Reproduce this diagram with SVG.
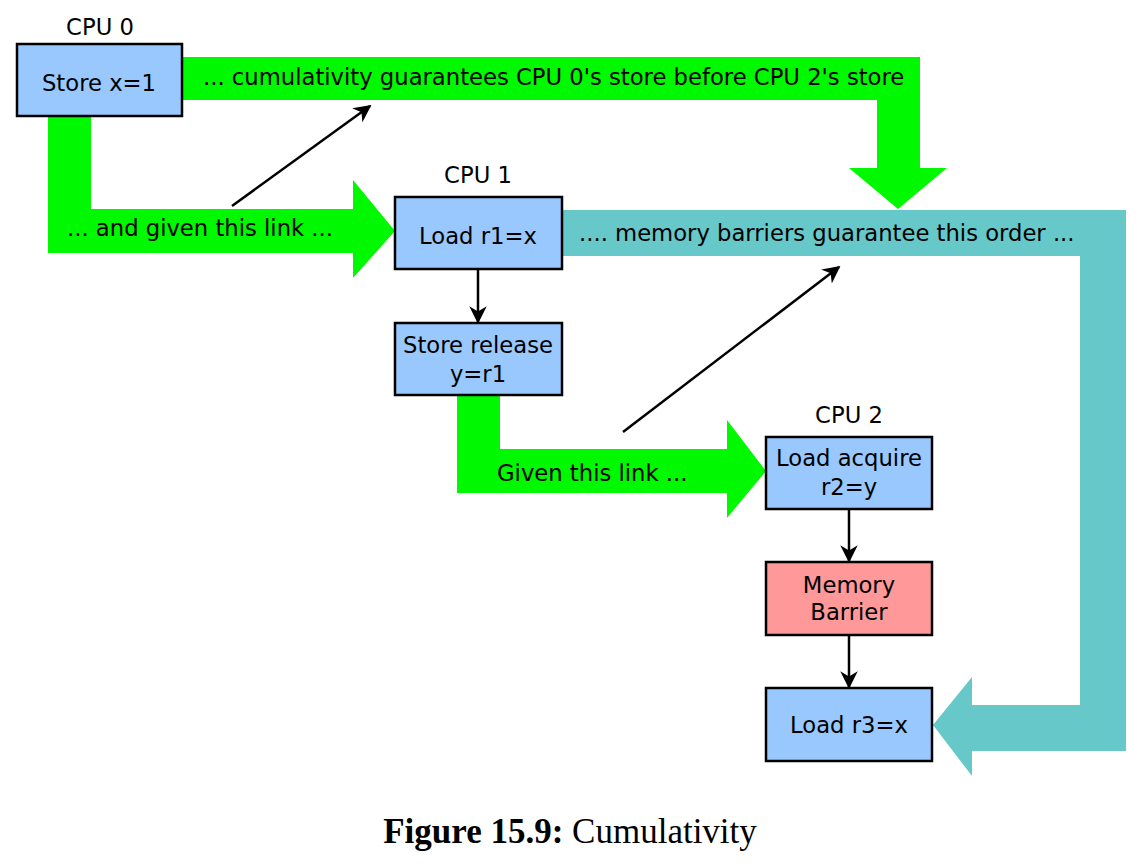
<svg xmlns="http://www.w3.org/2000/svg" width="1146" height="866" viewBox="0 0 1146 866">
<style>
.box{stroke:#000;stroke-width:2.5}
.blue{fill:#99c8ff}
.red{fill:#ff9999}
.t{font-family:"DejaVu Sans",sans-serif;font-size:22.7px;fill:#000}
.c{text-anchor:middle}
.green{fill:#00f800}
.teal{fill:#66c8c8}
.ln{stroke:#000;stroke-width:2.5;fill:none}
</style>
<defs>
<marker id="ah2" viewBox="0 0 10 10" refX="9" refY="5" markerWidth="7" markerHeight="7" orient="auto">
<path d="M0,0 L10,5 L0,10 L3,5 Z" fill="#000"/>
</marker>
</defs>
<g id="connectors">
<path class="green" d="M183,57 H920 V168 H947 L898,209 L849,168 H877 V100 H183 Z"/>
<path class="green" d="M48,117 H91 V209 H353 V180 L395,231 L353,278 V253 H48 Z"/>
<path class="green" d="M457,395 H500 V449 H727 V420 L766,471 L727,518 V493 H457 Z"/>
<path class="teal" d="M562,210 H1126 V751 H972 V776 L933,725 L972,677 V705 H1080 V256 H562 Z"/>
<line class="ln" x1="232" y1="206" x2="370" y2="106" marker-end="url(#ah2)"/>
<line class="ln" x1="623" y1="432" x2="839" y2="267" marker-end="url(#ah2)"/>
<line class="ln" x1="478" y1="269" x2="478" y2="322" marker-end="url(#ah2)"/>
<line class="ln" x1="849" y1="509" x2="849" y2="561" marker-end="url(#ah2)"/>
<line class="ln" x1="849" y1="635" x2="849" y2="687" marker-end="url(#ah2)"/>
<text class="t" x="203" y="85">... cumulativity guarantees CPU 0's store before CPU 2's store</text>
<text class="t" x="67" y="236">... and given this link ...</text>
<text class="t" x="579" y="241">.... memory barriers guarantee this order ...</text>
<text class="t" x="497" y="481">Given this link ...</text>
</g>
<g id="cpu0">
<text class="t c" x="100" y="35">CPU 0</text>
<rect class="box blue" x="17" y="44" width="165" height="72"/>
<text class="t c" x="99" y="91">Store x=1</text>
</g>
<g id="cpu1-load">
<text class="t c" x="478" y="183">CPU 1</text>
<rect class="box blue" x="395" y="197" width="167" height="72"/>
<text class="t c" x="478" y="244">Load r1=x</text>
</g>
<g id="cpu1-store">
<rect class="box blue" x="395" y="323" width="167" height="72"/>
<text class="t c" x="478" y="353">Store release</text>
<text class="t c" x="478" y="382">y=r1</text>
</g>
<g id="cpu2-load-acquire">
<text class="t c" x="849" y="423">CPU 2</text>
<rect class="box blue" x="766" y="437" width="166" height="72"/>
<text class="t c" x="849" y="466">Load acquire</text>
<text class="t c" x="849" y="495">r2=y</text>
</g>
<g id="cpu2-barrier">
<rect class="box red" x="766" y="562" width="166" height="73"/>
<text class="t c" x="849" y="593">Memory</text>
<text class="t c" x="849" y="620">Barrier</text>
</g>
<g id="cpu2-load">
<rect class="box blue" x="766" y="688" width="166" height="73"/>
<text class="t c" x="849" y="733">Load r3=x</text>
</g>
<g id="caption">
<text x="570" y="843" text-anchor="middle" style="font-family:'Liberation Serif',serif;font-size:35px"><tspan font-weight="bold">Figure 15.9:</tspan> Cumulativity</text>
</g>
</svg>
